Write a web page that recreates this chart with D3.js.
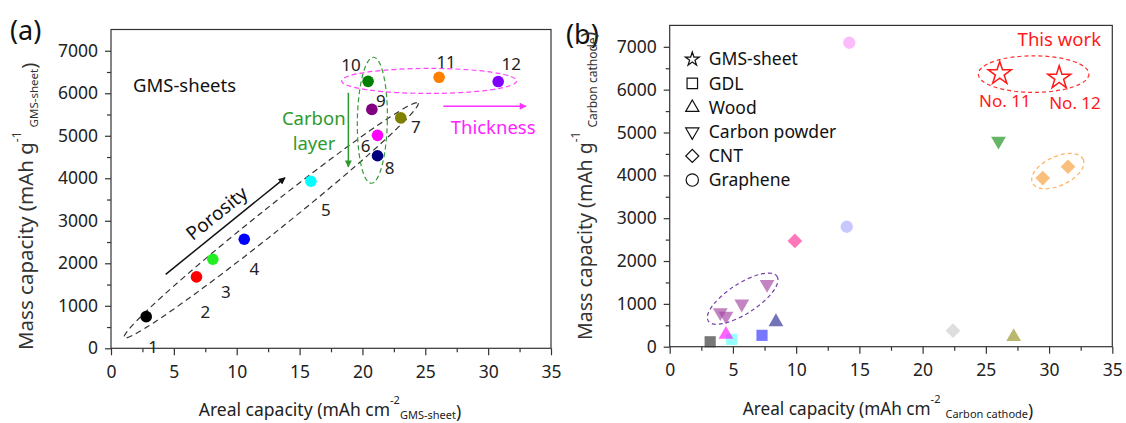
<!DOCTYPE html>
<html>
<head>
<meta charset="utf-8">
<script src="https://cdn.jsdelivr.net/npm/d3@7/dist/d3.min.js"></script>
<style>
    body { margin: 0; background: #fff; }
    svg { display: block; font-family: "Noto Sans", sans-serif; }
</style>
</head>
<body>
<svg id="chart" width="1126" height="423"></svg>
<script>
//^^^^^^^^^^^^^^^^^^^^^^^^^^^^^^^^^^^^^^^^^^^^^^^^^^^^^^^^^^^^^^^^^^^^^^^^^^^^^^
// Data
//------------------------------------------------------------------------------
var xTicks = [0, 5, 10, 15, 20, 25, 30, 35],
    xMinorTicks = [2.5, 7.5, 12.5, 17.5, 22.5, 27.5, 32.5],
    yTicks = [0, 1000, 2000, 3000, 4000, 5000, 6000, 7000],
    yMinorTicks = [500, 1500, 2500, 3500, 4500, 5500, 6500];

// (a) GMS-sheets no. 1..12
var gmsLabels = ["1", "2", "3", "4", "5", "6", "7", "8", "9", "10", "11", "12"],
    gmsAreal = [2.8, 6.8, 8.1, 10.6, 15.9, 21.2, 23.05, 21.2, 20.75, 20.45, 26.1, 30.8],
    gmsMass = [745, 1680, 2095, 2565, 3930, 5010, 5420, 4530, 5620, 6280, 6375, 6275];

// (b) literature carbon cathodes, by type
var gdlAreal = [3.2, 4.9, 7.3],
    gdlMass = [115, 170, 265],
    woodAreal = [4.45, 8.4, 27.2],
    woodMass = [285, 580, 230],
    powderAreal = [4.0, 4.45, 5.7, 7.7, 26.0],
    powderMass = [800, 715, 1000, 1460, 4800],
    cntAreal = [9.9, 22.4, 29.5, 31.5],
    cntMass = [2470, 375, 3935, 4200],
    grapheneAreal = [14.2, 14.0],
    grapheneMass = [7095, 2800],
    thisWorkAreal = [gmsAreal[10], gmsAreal[11]],
    thisWorkMass = [gmsMass[10], gmsMass[11]];

var legendLabels = ["GMS-sheet", "GDL", "Wood", "Carbon powder", "CNT", "Graphene"];

//^^^^^^^^^^^^^^^^^^^^^^^^^^^^^^^^^^^^^^^^^^^^^^^^^^^^^^^^^^^^^^^^^^^^^^^^^^^^^^
// Colours (kept apart from the values)
//------------------------------------------------------------------------------
var gmsPalette = ["#000000", "#ff0000", "#22ee22", "#0000ff", "#00ffff", "#ff00ff",
                  "#808000", "#000080", "#800080", "#008000", "#ff8000", "#8000ff"];
var gdlPalette = ["#2f2f2f", "#5dffff", "#2f2fff"],
    woodPalette = ["#ff11ff", "#282892", "#929223"],
    powderPalette = ["#a143a1", "#a143a1", "#a143a1", "#a143a1", "#148c14"],
    cntPalette = ["#ff2e96", "#cccccc", "#f79b37", "#f79b37"],
    graphenePalette = ["#fa98fa", "#aaaaff"];

// label offsets (px) of the numbers in (a)
var labelOffsets = [[7, 30], [9, 35], [13, 33], [10, 30], [15, 29], [-12, 11],
                    [15, 9], [12, 12], [9, -8], [-17, -16], [7, -15], [13, -18]];

var svg = d3.select("#chart");

var xA = d3.scaleLinear().domain([0, 35]).range([111, 551]),
    yA = d3.scaleLinear().domain([0, 7500]).range([348.3, 29.5]),
    xB = d3.scaleLinear().domain([0, 35]).range([669.7, 1112.3]),
    yB = d3.scaleLinear().domain([0, 7500]).range([346.7, 25.4]);

//^^^^^^^^^^^^^^^^^^^^^^^^^^^^^^^^^^^^^^^^^^^^^^^^^^^^^^^^^^^^^^^^^^^^^^^^^^^^^^
// Arrow heads
//------------------------------------------------------------------------------
var defs = svg.append("defs");
[["head_black", "#111"], ["head_green", "#2e9a2e"], ["head_magenta", "#ff33ff"]].forEach(function(m) {
    defs.append("marker")
        .attr("id", m[0])
        .attr("viewBox", "0 0 10 10")
        .attr("refX", 9)
        .attr("refY", 5)
        .attr("markerUnits", "userSpaceOnUse")
        .attr("markerWidth", 9)
        .attr("markerHeight", 7)
        .attr("orient", "auto")
        .append("path")
        .attr("d", "M0,0L10,5L0,10z")
        .attr("fill", m[1]);
});

//^^^^^^^^^^^^^^^^^^^^^^^^^^^^^^^^^^^^^^^^^^^^^^^^^^^^^^^^^^^^^^^^^^^^^^^^^^^^^^
// Frame, ticks and tick labels of one panel
//------------------------------------------------------------------------------
function frame(g, x, y) {

    function style(a) {
        a.select(".domain").remove();
        a.selectAll("line").attr("stroke", "#333").attr("stroke-width", 1.2);
        a.selectAll("text").attr("fill", "#222").style("font-size", "17.5px")
            .style("font-family", "'Noto Sans', sans-serif");
    }

    g.append("g")
        .attr("transform", "translate(0," + y(0) + ")")
        .call(d3.axisBottom(x).tickValues(xMinorTicks).tickSize(4).tickFormat(""))
        .call(style);

    g.append("g")
        .attr("transform", "translate(0," + y(0) + ")")
        .call(d3.axisBottom(x).tickValues(xTicks).tickSize(7).tickPadding(10).tickFormat(d3.format("d")))
        .call(style);

    g.append("g")
        .attr("transform", "translate(" + x(0) + ",0)")
        .call(d3.axisLeft(y).tickValues(yMinorTicks).tickSize(4).tickFormat(""))
        .call(style);

    g.append("g")
        .attr("transform", "translate(" + x(0) + ",0)")
        .call(d3.axisLeft(y).tickValues(yTicks).tickSize(6).tickPadding(7).tickFormat(d3.format("d")))
        .call(style);

    g.append("rect")
        .attr("x", x(0))
        .attr("y", y(7500))
        .attr("width", x(35) - x(0))
        .attr("height", y(0) - y(7500))
        .attr("fill", "none")
        .attr("stroke", "#333")
        .attr("stroke-width", 1.2);
}

function ellipse(g, x, y, cx, cy, rx, ry, angle, color, dash) {
    g.append("ellipse")
        .attr("transform", "translate(" + x(cx) + "," + y(cy) + ") rotate(" + angle + ")")
        .attr("rx", rx)
        .attr("ry", ry)
        .attr("fill", "none")
        .attr("stroke", color)
        .attr("stroke-width", 1.2)
        .attr("stroke-dasharray", dash);
}

function arrow(g, x, y, x1, y1, x2, y2, color, head) {
    g.append("line")
        .attr("x1", x(x1)).attr("y1", y(y1))
        .attr("x2", x(x2)).attr("y2", y(y2))
        .attr("stroke", color)
        .attr("stroke-width", 1.5)
        .attr("marker-end", "url(#" + head + ")");
}

function note(g, px, py, txt, color, size, anchor) {
    return g.append("text")
        .attr("x", px)
        .attr("y", py)
        .attr("dy", "0.35em")
        .attr("text-anchor", anchor || "middle")
        .attr("fill", color)
        .style("font-size", size + "px")
        .text(txt);
}

//^^^^^^^^^^^^^^^^^^^^^^^^^^^^^^^^^^^^^^^^^^^^^^^^^^^^^^^^^^^^^^^^^^^^^^^^^^^^^^
// Panel (a)
//------------------------------------------------------------------------------
var ga = svg.append("g");
frame(ga, xA, yA);

ellipse(ga, xA, yA, 12.74, 3010, 188, 12, -38.6, "#333", "6,4");
ellipse(ga, xA, yA, 20.79, 5365, 15, 63, 1, "#3a9a3a", "5,3");
ellipse(ga, xA, yA, 25.31, 6290, 87.5, 12.5, 0, "#ff44ff", "5,3");

arrow(ga, xA, yA, 4.35, 1740, 13.84, 4011, "#111", "head_black");
arrow(ga, xA, yA, 18.88, 6010, 18.88, 4270, "#2e9a2e", "head_green");
arrow(ga, xA, yA, 26.43, 5697, 33.01, 5697, "#ff33ff", "head_magenta");

ga.selectAll("circle.gms")
    .data(gmsAreal)
    .enter().append("circle")
    .attr("class", "gms")
    .attr("cx", function(d) { return xA(d); })
    .attr("cy", function(d, i) { return yA(gmsMass[i]); })
    .attr("r", 5.8)
    .attr("fill", function(d, i) { return gmsPalette[i]; });

ga.selectAll("text.num")
    .data(gmsLabels)
    .enter().append("text")
    .attr("class", "num")
    .attr("x", function(d, i) { return xA(gmsAreal[i]) + labelOffsets[i][0]; })
    .attr("y", function(d, i) { return yA(gmsMass[i]) + labelOffsets[i][1]; })
    .attr("dy", "0.35em")
    .attr("text-anchor", "middle")
    .attr("fill", "#222")
    .style("font-size", "17px")
    .text(function(d) { return d; });

note(ga, xA(1.75), yA(6191), "GMS-sheets", "#111", 18.5, "start");
note(ga, xA(16.13), yA(5408), "Carbon", "#2e9a2e", 18.5);
note(ga, xA(16.15), yA(4820), "layer", "#2e9a2e", 18.5);
note(ga, xA(30.4), yA(5203), "Thickness", "#ff22ff", 18.5);
note(ga, 0, 0, "Porosity", "#111", 19)
    .attr("transform", "translate(" + xA(8.41) + "," + yA(3174) + ") rotate(-39)");

note(ga, 10, 31, "(a)", "#111", 27, "start");

// axis titles (a)
var ya = ga.append("text")
    .attr("transform", "translate(33,350) rotate(-90)")
    .attr("fill", "#333")
    .style("font-size", "20.5px");
ya.append("tspan").text("Mass capacity (mAh g");
ya.append("tspan").attr("dy", -12).style("font-size", "12px").text("-1");
ya.append("tspan").attr("dx", 4).attr("dy", 17).style("font-size", "11.5px").text("GMS-sheet");
ya.append("tspan").attr("dy", -2).text(")");

var xa = ga.append("text")
    .attr("x", 330)
    .attr("y", 416)
    .attr("text-anchor", "middle")
    .attr("fill", "#222")
    .style("font-size", "17.5px");
xa.append("tspan").text("Areal capacity (mAh cm");
xa.append("tspan").attr("dy", -12).style("font-size", "11px").text("-2");
xa.append("tspan").attr("dy", 15).style("font-size", "11px").text("GMS-sheet");
xa.append("tspan").attr("dy", -1).text(")");

//^^^^^^^^^^^^^^^^^^^^^^^^^^^^^^^^^^^^^^^^^^^^^^^^^^^^^^^^^^^^^^^^^^^^^^^^^^^^^^
// Panel (b)
//------------------------------------------------------------------------------
var gb = svg.append("g");
frame(gb, xB, yB);

ellipse(gb, xB, yB, 28.78, 6363, 55.3, 18.3, 0, "#ff3030", "4,3");
ellipse(gb, xB, yB, 30.69, 4099, 28, 14.5, -25, "#ffb060", "4,3");
ellipse(gb, xB, yB, 5.77, 1121, 41, 15, -33, "#7744aa", "4,3");

var symbolSet = [
    { xs: gdlAreal, ys: gdlMass, cols: gdlPalette, type: d3.symbolSquare, size: 125, rot: 0 },
    { xs: woodAreal, ys: woodMass, cols: woodPalette, type: d3.symbolTriangle, size: 95, rot: 0 },
    { xs: powderAreal, ys: powderMass, cols: powderPalette, type: d3.symbolTriangle, size: 95, rot: 180 },
    { xs: cntAreal, ys: cntMass, cols: cntPalette, type: d3.symbolSquare, size: 108, rot: 45 },
    { xs: grapheneAreal, ys: grapheneMass, cols: graphenePalette, type: d3.symbolCircle, size: 120, rot: 0 }
];

symbolSet.forEach(function(s) {
    gb.append("g").selectAll("path")
        .data(s.xs)
        .enter().append("path")
        .attr("d", d3.symbol().type(s.type).size(s.size))
        .attr("transform", function(d, i) {
            return "translate(" + xB(d) + "," + yB(s.ys[i]) + ") rotate(" + s.rot + ")";
        })
        .attr("fill", function(d, i) { return s.cols[i]; })
        .attr("fill-opacity", 0.65);
});

gb.append("g").selectAll("path")
    .data(thisWorkAreal)
    .enter().append("path")
    .attr("d", d3.symbol().type(d3.symbolStar).size(165))
    .attr("transform", function(d, i) {
        return "translate(" + xB(d) + "," + yB(thisWorkMass[i]) + ")";
    })
    .attr("fill", "none")
    .attr("stroke", "#ff1a1a")
    .attr("stroke-width", 1.5);

note(gb, xB(30.81), yB(7164), "This work", "#ff1a1a", 18.5);
note(gb, xB(26.51), yB(5739), "No. 11", "#ff1a1a", 17);
note(gb, xB(32.05), yB(5685), "No. 12", "#ff1a1a", 17);

// legend
var legendShapes = [
    { type: d3.symbolStar, size: 60, rot: 0 },
    { type: d3.symbolSquare, size: 110, rot: 0 },
    { type: d3.symbolTriangle, size: 75, rot: 0 },
    { type: d3.symbolTriangle, size: 75, rot: 180 },
    { type: d3.symbolSquare, size: 85, rot: 45 },
    { type: d3.symbolCircle, size: 120, rot: 0 }
];

var legend = gb.append("g").attr("transform", "translate(" + (xB(0) + 22.6) + ",59.3)");
var rows = legend.selectAll("g")
    .data(legendLabels)
    .enter().append("g")
    .attr("transform", function(d, i) { return "translate(0," + (i * 24.15) + ")"; });

rows.append("path")
    .attr("d", function(d, i) { return d3.symbol().type(legendShapes[i].type).size(legendShapes[i].size)(); })
    .attr("transform", function(d, i) { return "rotate(" + legendShapes[i].rot + ")"; })
    .attr("fill", "none")
    .attr("stroke", "#111")
    .attr("stroke-width", 1.2);

rows.append("text")
    .attr("x", 16.5)
    .attr("dy", "0.35em")
    .attr("fill", "#111")
    .style("font-size", "17.5px")
    .text(function(d) { return d; });

note(gb, 566, 35, "(b)", "#111", 27, "start");

// axis titles (b)
var yb = gb.append("text")
    .attr("transform", "translate(592,340) rotate(-90)")
    .attr("fill", "#333")
    .style("font-size", "19.5px");
yb.append("tspan").text("Mass capacity (mAh g");
yb.append("tspan").attr("dy", -12).style("font-size", "12px").text("-1");
yb.append("tspan").attr("dx", 4).attr("dy", 17).style("font-size", "12px").text("Carbon cathode");
yb.append("tspan").attr("dy", -2).text(")");

var xb = gb.append("text")
    .attr("x", 888)
    .attr("y", 415)
    .attr("text-anchor", "middle")
    .attr("fill", "#222")
    .style("font-size", "17.2px");
xb.append("tspan").text("Areal capacity (mAh cm");
xb.append("tspan").attr("dy", -12).style("font-size", "11px").text("-2");
xb.append("tspan").attr("dx", 5).attr("dy", 15).style("font-size", "11px").text("Carbon cathode");
xb.append("tspan").attr("dy", -1).text(")");
</script>
</body>
</html>
